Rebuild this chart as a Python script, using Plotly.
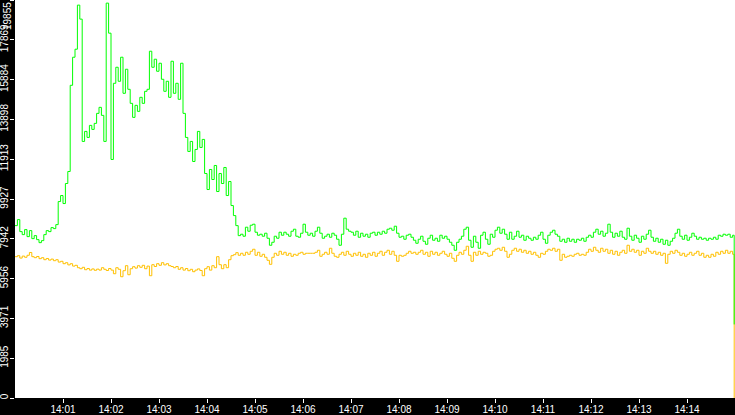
import pandas as pd
import plotly.graph_objects as go

# samples every 3 s from 14:00:00, last one is the drop at the end
times = list(pd.date_range("2000-01-01 14:00:00", periods=300, freq="3s")) + [pd.Timestamp("2000-01-01 14:14:59")]

green = [
    8600, 8900, 8300, 8150, 8400, 8050, 8350, 7950, 8100, 7900,
    7750, 7850, 8150, 8350, 8300, 8500, 8450, 8650, 9800, 10100,
    9700, 10700, 11300, 15600, 17000, 17400, 19600, 18900, 12800, 13300,
    13000, 13600, 13400, 13700, 14200, 14500, 14100, 12800, 19700, 18200,
    11900, 15700, 16500, 15800, 17000, 15200, 16400, 15400, 14700, 14000,
    14600, 14300, 15000, 14700, 15300, 15400, 17300, 16500, 16900, 16300,
    16700, 15900, 15300, 15800, 15000, 16800, 15200, 15700, 14900, 16700,
    14200, 13000, 12300, 12800, 11800, 12400, 13300, 12500, 12900, 11200,
    10400, 11400, 10900, 11600, 10300, 11200, 10700, 11500, 10100, 10800,
    9600, 9100, 8600, 8100, 8170, 8070, 8520, 8320, 8620, 8670,
    8270, 8120, 8170, 8070, 8220, 7970, 7620, 7770, 8070, 7970,
    8270, 8120, 8270, 8170, 8070, 8320, 8420, 8070, 8020, 8220,
    8670, 8270, 8120, 8220, 8070, 8320, 8520, 8220, 7970, 8070,
    8170, 8020, 8220, 8120, 7920, 7620, 8170, 8970, 8420, 8320,
    8270, 8120, 8320, 8020, 8220, 8070, 8170, 8020, 8220, 8270,
    8120, 8270, 8170, 8320, 8220, 8420, 8470, 8370, 8570, 8220,
    8020, 8070, 7920, 8120, 8170, 8020, 7870, 7720, 7920, 8070,
    7820, 7670, 7970, 8120, 7870, 7970, 7820, 8120, 7970, 8070,
    7920, 7770, 7620, 7370, 7770, 7920, 8070, 8420, 8520, 7870,
    7520, 8070, 7770, 7470, 8120, 8270, 7920, 7670, 8170, 8020,
    8370, 8520, 8220, 8420, 8170, 7920, 8270, 7920, 8070, 8320,
    8020, 8120, 7870, 8070, 7970, 7870, 8020, 7920, 8120, 8270,
    7920, 7720, 8120, 8270, 8370, 8170, 8070, 7820, 7920, 7770,
    7970, 7820, 7920, 7770, 7920, 7870, 7970, 7820, 8020, 8120,
    8020, 8270, 8420, 8170, 8320, 8070, 8220, 8670, 8270, 8020,
    8220, 8070, 8320, 8020, 7920, 8470, 8070, 7870, 8120, 7970,
    7770, 8070, 7920, 8170, 8370, 8020, 7820, 7970, 7770, 7920,
    7670, 7870, 7620, 7820, 7970, 8220, 8420, 8070, 7920, 8120,
    7870, 8020, 8220, 8070, 7920, 8020, 7920, 7970, 7870, 7970,
    7920, 8020, 7920, 8120, 8070, 8170, 8120, 8170, 8020, 8120,
    3670,
]

orange = [
    7050, 7100, 6980, 7080, 7020, 7120, 7260, 7050, 7000, 7060,
    6950, 7000, 6900, 6960, 6880, 6930, 6850, 6900, 6780, 6820,
    6700, 6750, 6640, 6700, 6580, 6620, 6500, 6450, 6520, 6400,
    6460, 6380, 6440, 6370, 6430, 6380, 6500, 6420, 6360, 6460,
    6380, 6200, 6500, 6420, 6050, 6350, 6600, 6150, 6450, 6550,
    6480, 6600, 6520, 6620, 6450, 6580, 6100, 6650, 6560, 6700,
    6620, 6750, 6640, 6700, 6600, 6560, 6500, 6560, 6420, 6500,
    6380, 6460, 6350, 6420, 6300, 6380, 6440, 6360, 6100, 6450,
    6550, 6380, 6600, 6500, 7050, 6650, 6450, 6650, 6500, 6900,
    7100, 7150, 7250, 7120, 7220, 7120, 7270, 7170, 7320, 7420,
    7120, 7270, 7070, 7170, 7020, 6870, 6670, 7020, 7220, 7120,
    7320, 7170, 7270, 7120, 7220, 7070, 7170, 7120, 7220, 7270,
    7170, 7220, 7220, 7220, 7220, 7270, 7370, 7070, 7170, 7270,
    7170, 7470, 7220, 7070, 7020, 7170, 7270, 7120, 7320, 7170,
    7070, 7220, 7120, 7270, 7070, 7170, 7020, 7220, 7120, 7270,
    7070, 7220, 7320, 7120, 7270, 7370, 7170, 7320, 7120, 6820,
    7120, 7070, 7120, 7220, 7320, 7220, 7270, 7170, 7270, 7370,
    7170, 7270, 7070, 7320, 7170, 7270, 7120, 7220, 7320, 7170,
    7070, 7220, 6970, 6820, 7120, 7270, 7170, 7370, 7570, 7120,
    6820, 7270, 7120, 7320, 7170, 7270, 7220, 7070, 7120, 7320,
    7420, 7470, 7370, 7520, 7320, 7020, 7170, 7370, 7470, 7320,
    7420, 7270, 7370, 7220, 7320, 7170, 7270, 7120, 7020, 7220,
    7170, 7320, 7420, 7370, 7470, 7320, 7420, 6870, 7170, 7020,
    7070, 7120, 7070, 7170, 7220, 7120, 7170, 7120, 7270, 7420,
    7320, 7520, 7370, 7270, 7470, 7320, 7420, 7220, 7370, 7170,
    7320, 7120, 7270, 7370, 7220, 7620, 7320, 7420, 7270, 7370,
    7120, 7320, 7220, 7470, 7320, 7220, 7320, 7170, 7270, 7120,
    7220, 6720, 7170, 7320, 7220, 7370, 7270, 7120, 7220, 7070,
    7170, 7270, 7120, 7220, 7320, 7120, 7220, 7020, 7120, 7020,
    7170, 7070, 7270, 7170, 7320, 7220, 7370, 7220, 7320, 7170,
    0,
]

ytick_vals = [0, 1985, 3971, 5956, 7942, 9927, 11913, 13898, 15884, 17869, 19855]
xtick_vals = ["2000-01-01 14:%02d:00" % m for m in range(1, 15)]
xtick_text = ["14:%02d" % m for m in range(1, 15)]

fig = go.Figure()
fig.add_trace(go.Scatter(x=times, y=orange, mode="lines", line=dict(color="#ffc000", width=1, shape="hv"),
                         showlegend=False, hoverinfo="skip"))
fig.add_trace(go.Scatter(x=times, y=green, mode="lines", line=dict(color="#00ff00", width=1, shape="hv"),
                         showlegend=False, hoverinfo="skip"))

fig.update_layout(
    width=735, height=415,
    margin=dict(l=15, r=0, t=0, b=17, pad=0),
    paper_bgcolor="black",
    plot_bgcolor="white",
    font=dict(family="Liberation Sans", color="white", size=11),
    xaxis=dict(
        range=["2000-01-01 14:00:00", "2000-01-01 14:15:00"],
        tickvals=xtick_vals, ticktext=xtick_text,
        ticks="outside", ticklen=4, tickcolor="white", tickwidth=1,
        ticklabelstandoff=-2,
        showgrid=False, zeroline=False, showline=False, automargin=False,
        tickfont=dict(size=10, color="white"),
    ),
    yaxis=dict(
        range=[0, ytick_vals[-1]],
        tickvals=ytick_vals,
        ticktext=[str(v) for v in ytick_vals[:-1]] + [""],
        tickangle=-90,
        ticks="outside", ticklen=4, tickcolor="white", tickwidth=1,
        ticklabelstandoff=-2,
        showgrid=False, zeroline=False, showline=False, automargin=False,
        tickfont=dict(size=10, color="white"),
    ),
)

# top label pushed inside the page like the original renderer does
fig.add_annotation(x=0, xref="paper", xshift=-8, xanchor="center",
                   y=ytick_vals[-1], yref="y", yanchor="top",
                   text=str(ytick_vals[-1]), textangle=-90, showarrow=False,
                   font=dict(size=10, color="white"))

# no browser body margin, so the chart fills the window
fig.write_html("out.html", config={"displayModeBar": False},
               post_script="document.body.style.margin='0';")
